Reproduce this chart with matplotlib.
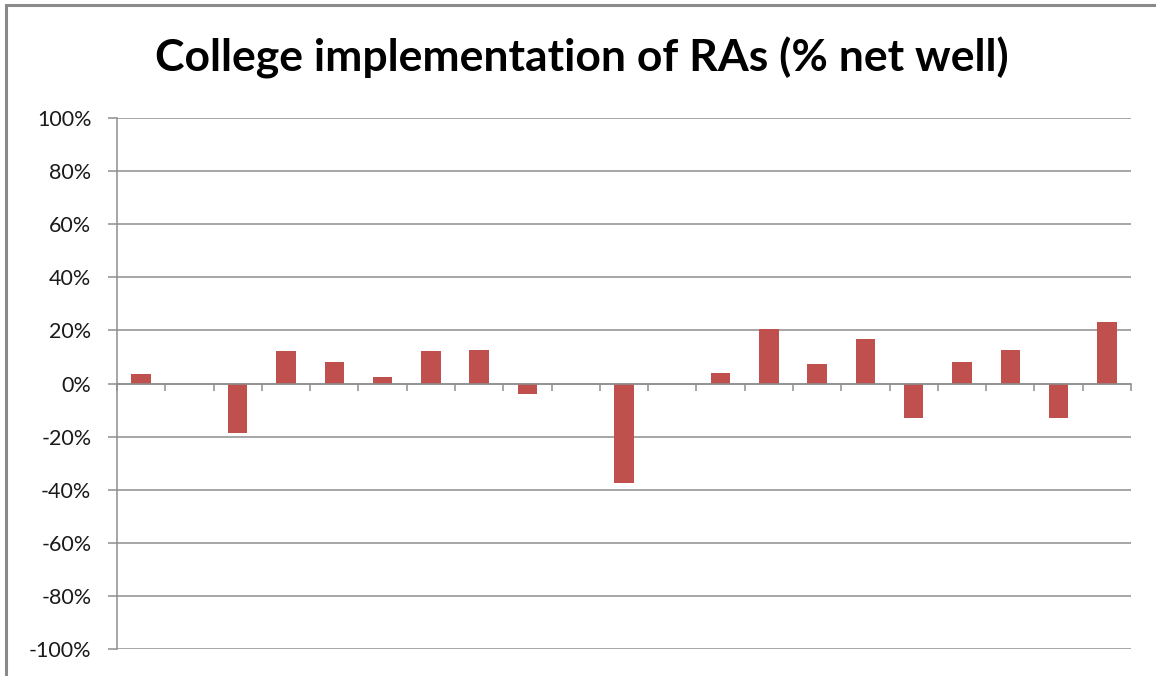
import numpy as np
import matplotlib
matplotlib.use("Agg")
import matplotlib.pyplot as plt
from matplotlib.patches import Rectangle
from matplotlib.ticker import FuncFormatter

title = "College implementation of RAs (% net well)"
# 21 categories, three without a value
values = [3.5, np.nan, -18.8, 12.3, 8.0, 2.5, 12.3, 12.8, -4.1, np.nan,
          -37.4, np.nan, 4.0, 20.6, 7.5, 16.7, -12.9, 8.0, 12.8, -12.9, 23.0]
y_ticks = [-100, -80, -60, -40, -20, 0, 20, 40, 60, 80, 100]

plt.rcParams['font.family'] = ['Lato', 'DejaVu Sans']

fig = plt.figure(figsize=(11.56, 6.76), dpi=100)
W, H = 1156, 676
ax = fig.add_axes([117 / W, 1 - 649 / H, (1131 - 117) / W, (649 - 118) / H])

grey = '#8e8e8e'
x = np.arange(len(values))
vals = np.array(values) / 100.0
ax.bar(x, np.nan_to_num(vals), width=0.4, color='#c0504d', zorder=3)

ax.set_xlim(-0.5, len(values) - 0.5)
ax.set_ylim(-1, 1)
ax.set_yticks(np.array(y_ticks) / 100.0)
ax.yaxis.set_major_formatter(FuncFormatter(lambda v, p: '{:.0f}%'.format(v * 100)))
ax.grid(axis='y', color=grey, linewidth=1.1, zorder=0)

for s in ['top', 'right']:
    ax.spines[s].set_visible(False)
ax.spines['left'].set_color(grey)
ax.spines['left'].set_linewidth(1.1)
ax.spines['bottom'].set_position(('data', 0))
ax.spines['bottom'].set_color(grey)
ax.spines['bottom'].set_linewidth(1.1)
ax.spines['bottom'].set_zorder(4)

ax.set_xticks(np.arange(-0.5, len(values), 1.0))
ax.set_xticklabels([])
ax.tick_params(axis='x', direction='out', length=5, color=grey, width=1.1)
ax.tick_params(axis='y', direction='out', length=6.5, color=grey, width=1.1,
               pad=12, labelsize=15.5, labelcolor='#1a1a1a')

fig.text(582 / W, 1 - 58 / H, title, ha='center', va='center',
         fontsize=32, fontweight='bold', color='black')

# outer chart frame (top and left edges visible)
fig.patches.append(Rectangle((6 / W, -0.1), 1.2, 1 - 5 / H + 0.1, transform=fig.transFigure,
                             fill=False, edgecolor='#8a8a8a', linewidth=2.2))

fig.savefig('out.png', dpi=100)
